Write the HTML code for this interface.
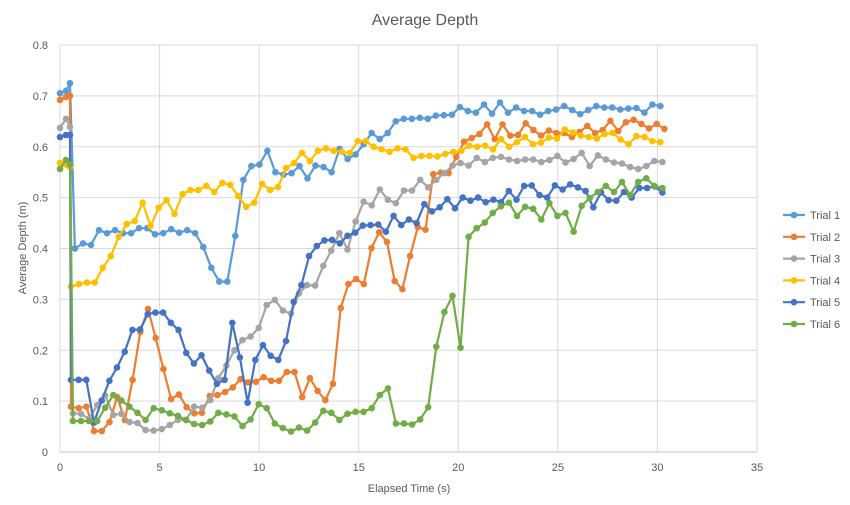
<!DOCTYPE html>
<html><head><meta charset="utf-8"><style>
body{margin:0;background:#fff;}
svg{display:block;font-family:"Liberation Sans",sans-serif;}
</style></head><body>
<svg id="chart" width="850" height="505">
<rect width="850" height="505" fill="#fff"/>
<text x="425" y="25" text-anchor="middle" font-size="16" fill="#595959">Average Depth</text>
<g id="grid"></g><g id="axes"></g><g id="series"></g><g id="legend"></g>
<text x="409" y="492" text-anchor="middle" font-size="11" fill="#595959">Elapsed Time (s)</text>
<text transform="translate(26,248) rotate(-90)" text-anchor="middle" font-size="11" fill="#595959">Average Depth (m)</text>
</svg>
<script>
const seriesNames=["Trial 1","Trial 2","Trial 3","Trial 4","Trial 5","Trial 6"];
const seriesColors=["#5B9BD5","#ED7D31","#A5A5A5","#FFC000","#4472C4","#70AD47"];
const xTicks=[0,5,10,15,20,25,30,35];
const yTicks=[0,0.1,0.2,0.3,0.4,0.5,0.6,0.7,0.8];
const initTimes=[0,0.3,0.5];
const t1Init=[0.705,0.71,0.725];
const t2Init=[0.692,0.698,0.7];
const t3Init=[0.637,0.655,0.639];
const t4Init=[0.568,0.565,0.56];
const t5Init=[0.619,0.623,0.623];
const t6Init=[0.556,0.574,0.565];
const tStart=[0.75,0.55,0.65,0.55,0.55,0.65];
const tEnd=[30.15,30.35,30.25,30.15,30.25,30.25];
const t1Vals=[0.40,0.41,0.407,0.436,0.43,0.436,0.43,0.43,0.44,0.44,0.428,0.43,0.438,0.431,0.436,0.43,0.403,0.362,0.335,0.335,0.425,0.535,0.562,0.565,0.592,0.55,0.545,0.548,0.562,0.538,0.563,0.56,0.55,0.596,0.576,0.585,0.605,0.627,0.615,0.627,0.65,0.655,0.655,0.657,0.655,0.661,0.662,0.663,0.678,0.67,0.667,0.683,0.665,0.687,0.667,0.677,0.67,0.67,0.663,0.67,0.673,0.68,0.672,0.664,0.672,0.68,0.677,0.677,0.673,0.675,0.676,0.667,0.683,0.68];
const t2Vals=[0.089,0.086,0.089,0.041,0.041,0.059,0.108,0.063,0.142,0.236,0.281,0.224,0.163,0.104,0.113,0.088,0.076,0.077,0.11,0.112,0.118,0.127,0.143,0.137,0.138,0.147,0.14,0.14,0.157,0.157,0.108,0.145,0.12,0.102,0.134,0.283,0.33,0.34,0.33,0.401,0.432,0.413,0.336,0.32,0.385,0.442,0.437,0.546,0.549,0.548,0.58,0.61,0.617,0.625,0.644,0.615,0.644,0.622,0.623,0.646,0.633,0.622,0.632,0.627,0.627,0.619,0.629,0.641,0.627,0.633,0.651,0.631,0.648,0.653,0.645,0.636,0.645,0.635];
const t3Vals=[0.076,0.075,0.065,0.092,0.111,0.073,0.075,0.059,0.057,0.043,0.042,0.045,0.053,0.063,0.063,0.089,0.087,0.102,0.145,0.17,0.2,0.22,0.227,0.244,0.289,0.299,0.278,0.272,0.312,0.328,0.327,0.366,0.396,0.43,0.398,0.453,0.492,0.485,0.516,0.496,0.489,0.514,0.514,0.535,0.52,0.535,0.548,0.563,0.568,0.563,0.578,0.57,0.578,0.58,0.575,0.572,0.575,0.575,0.57,0.574,0.582,0.569,0.576,0.588,0.562,0.583,0.575,0.569,0.567,0.56,0.556,0.562,0.572,0.57];
const t4Vals=[0.325,0.33,0.333,0.333,0.362,0.385,0.423,0.448,0.454,0.49,0.444,0.48,0.495,0.468,0.507,0.515,0.515,0.523,0.511,0.529,0.525,0.503,0.482,0.49,0.527,0.515,0.521,0.558,0.568,0.588,0.572,0.592,0.597,0.592,0.59,0.588,0.611,0.611,0.6,0.595,0.59,0.597,0.595,0.578,0.582,0.582,0.581,0.586,0.59,0.592,0.602,0.6,0.602,0.595,0.615,0.6,0.609,0.619,0.605,0.608,0.618,0.616,0.634,0.628,0.622,0.619,0.616,0.625,0.627,0.614,0.605,0.621,0.619,0.611,0.609];
const t5Vals=[0.142,0.142,0.142,0.058,0.101,0.14,0.166,0.197,0.24,0.241,0.271,0.274,0.274,0.254,0.24,0.195,0.174,0.19,0.16,0.134,0.142,0.254,0.186,0.097,0.181,0.21,0.189,0.181,0.218,0.295,0.328,0.385,0.405,0.416,0.417,0.41,0.425,0.431,0.445,0.446,0.447,0.433,0.464,0.446,0.457,0.45,0.487,0.473,0.481,0.497,0.479,0.5,0.494,0.5,0.491,0.496,0.491,0.513,0.496,0.523,0.524,0.505,0.5,0.524,0.516,0.526,0.52,0.513,0.481,0.51,0.495,0.494,0.511,0.5,0.519,0.519,0.522,0.51];
const t6Vals=[0.061,0.061,0.061,0.061,0.087,0.112,0.101,0.089,0.077,0.063,0.086,0.082,0.076,0.071,0.063,0.055,0.053,0.06,0.077,0.074,0.07,0.051,0.064,0.094,0.086,0.056,0.047,0.04,0.048,0.042,0.058,0.081,0.077,0.063,0.075,0.079,0.079,0.086,0.112,0.125,0.056,0.056,0.054,0.064,0.088,0.207,0.275,0.307,0.205,0.423,0.44,0.451,0.47,0.483,0.49,0.464,0.482,0.478,0.457,0.489,0.464,0.47,0.433,0.484,0.499,0.511,0.523,0.511,0.531,0.505,0.531,0.538,0.523,0.519];
const inits=[t1Init,t2Init,t3Init,t4Init,t5Init,t6Init];
const vals=[t1Vals,t2Vals,t3Vals,t4Vals,t5Vals,t6Vals];

const NS="http://www.w3.org/2000/svg";
const X0=60,X1=757,Y0=452,Y1=45;
function xs(t){return X0+(t-0)/(35-0)*(X1-X0);}
function ys(v){return Y0-(v-0)/(0.8-0)*(Y0-Y1);}
function mk(tag,attrs,parent){const e=document.createElementNS(NS,tag);for(const k in attrs)e.setAttribute(k,attrs[k]);parent.appendChild(e);return e;}
const grid=document.getElementById('grid'),axes=document.getElementById('axes'),ser=document.getElementById('series'),leg=document.getElementById('legend');
yTicks.forEach(v=>{
  const l=mk('line',{x1:X0,x2:X1,y1:ys(v),y2:ys(v),stroke:v===0?'#bfbfbf':'#d9d9d9','stroke-width':1},grid);
  
  
  const t=mk('text',{x:48,y:ys(v)+4,'text-anchor':'end','font-size':11,fill:'#595959'},axes);
  t.textContent=v===0?'0':v.toFixed(1);
  
  
});
xTicks.forEach(v=>{
  const l=mk('line',{x1:xs(v),x2:xs(v),y1:Y1,y2:Y0,stroke:'#d9d9d9','stroke-width':1},grid);
  
  
  const t=mk('text',{x:xs(v),y:471,'text-anchor':'middle','font-size':11,fill:'#595959'},axes);
  t.textContent=String(v);
  
  
});
vals.forEach((arr,s)=>{
  const pts=[];
  inits[s].forEach((v,i)=>pts.push([initTimes[i],v]));
  const n=arr.length;
  arr.forEach((v,i)=>pts.push([tStart[s]+(tEnd[s]-tStart[s])*i/(n-1),v]));
  const g=mk('g',{},ser);
  
  
  const pl=mk('polyline',{points:pts.map(p=>xs(p[0]).toFixed(1)+','+ys(p[1]).toFixed(1)).join(' '),fill:'none',stroke:seriesColors[s],'stroke-width':2.2,'stroke-linejoin':'round'},g);
  
  
  pts.forEach(p=>{
    const c=mk('circle',{cx:xs(p[0]).toFixed(1),cy:ys(p[1]).toFixed(1),r:3.3,fill:seriesColors[s]},g);
    
    
  });
  const ly=215+s*21.8;
  const lg=mk('g',{},leg);
  
  
  mk('line',{x1:783,x2:805,y1:ly,y2:ly,stroke:seriesColors[s],'stroke-width':2.2},lg);
  mk('circle',{cx:794,cy:ly,r:3.3,fill:seriesColors[s]},lg);
  const lt=mk('text',{x:810,y:ly+4,'font-size':11,fill:'#595959'},lg);
  lt.textContent=seriesNames[s];
});
</script>
</body></html>
